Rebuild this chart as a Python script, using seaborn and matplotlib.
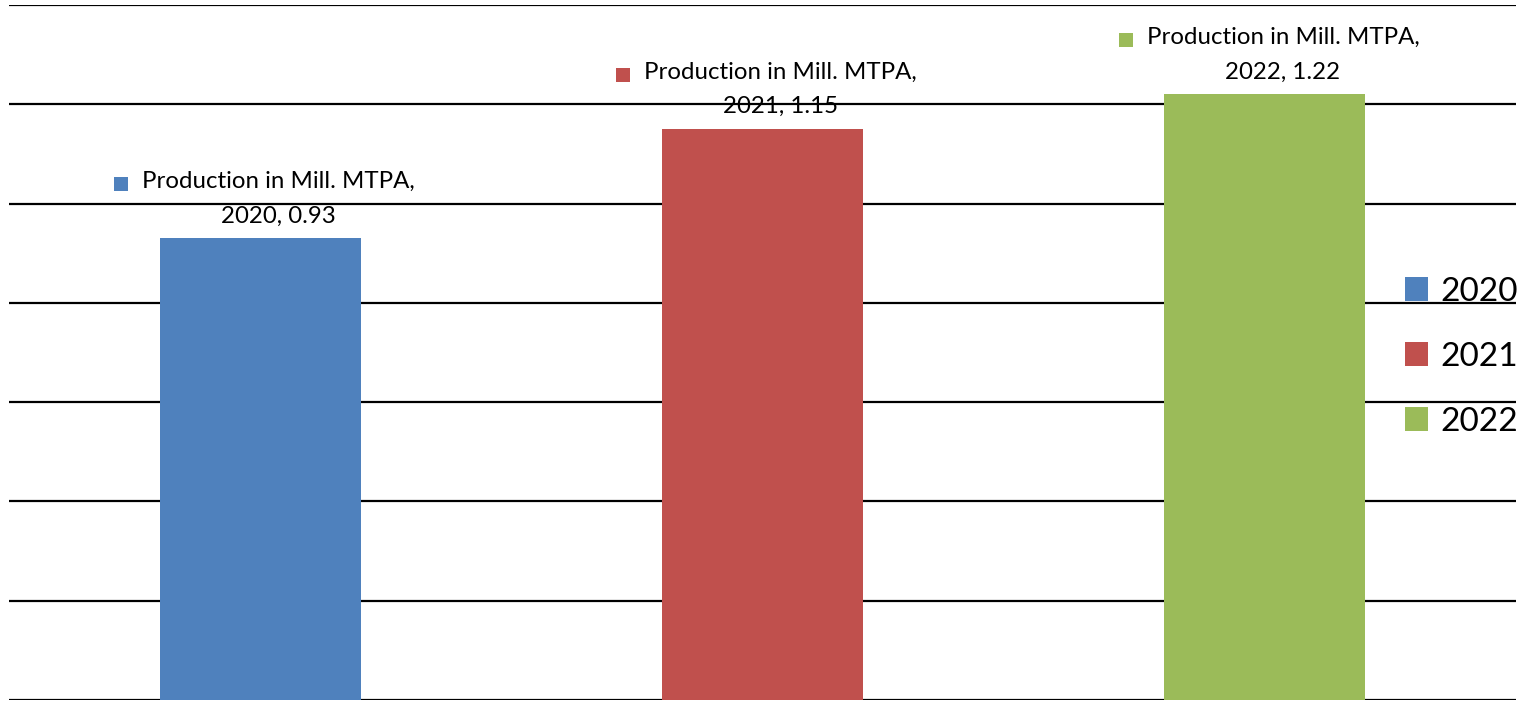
import matplotlib
matplotlib.use("Agg")
import matplotlib.pyplot as plt
import seaborn as sns
import pandas as pd
from matplotlib.patches import Patch

# data
years = ["2020", "2021", "2022"]
production = [0.93, 1.15, 1.22]
colors = ["#4F81BD", "#C0504D", "#9BBB59"]
series_name = "Production in Mill. MTPA"
grid_ticks = [0, 0.2, 0.4, 0.6, 0.8, 1.0, 1.2, 1.4]

df = pd.DataFrame({"year": years, "production": production})

sns.set_style("white")
plt.rcParams["font.family"] = ["Lato", "DejaVu Sans"]
plt.rcParams["text.color"] = "black"

W, H = 1528, 701
fig = plt.figure(figsize=(W / 100, H / 100), dpi=100)
ax = fig.add_axes([9 / W, 1 / H, (1516 - 9) / W, 695 / H])

sns.barplot(data=df, x="year", y="production", hue="year", palette=colors,
            width=0.4, saturation=1, linewidth=0, legend=False, ax=ax)

ax.set_xlim(-0.5, 2.5)
ax.set_ylim(0, 1.4)
ax.set_yticks(grid_ticks)
ax.yaxis.grid(True, color="black", linewidth=1.6)
ax.set_axisbelow(True)
ax.tick_params(left=False, bottom=False, labelleft=False, labelbottom=False)
ax.set_xlabel("")
ax.set_ylabel("")
for s in ax.spines.values():
    s.set_visible(False)

# data labels with a small colour key in front
fig.canvas.draw()
renderer = fig.canvas.get_renderer()
for i, (yr, v, c) in enumerate(zip(years, production, colors)):
    t = ax.annotate(f"{series_name},\n{yr}, {v:.2f}", xy=(i, v), xytext=(13, 8.5),
                    textcoords="offset points", ha="center", va="bottom",
                    multialignment="center", fontsize=17.3, linespacing=1.78,
                    color="black", annotation_clip=False)
    bb = t.get_window_extent(renderer)
    sx, sy = ax.transData.inverted().transform((bb.x0 - 21, bb.y1 - 12.5))
    ax.scatter([sx], [sy], marker="s", s=100, color=c, linewidths=0, clip_on=False)

handles = [Patch(facecolor=c, edgecolor="none") for c in colors]
fig.legend(handles, years, loc="center left", bbox_to_anchor=(1405 / W, 0.491),
           frameon=False, fontsize=24, handlelength=0.7, handleheight=0.7,
           handletextpad=0.36, labelspacing=1.05, borderpad=0, borderaxespad=0)

fig.savefig("out.png", dpi=100)
